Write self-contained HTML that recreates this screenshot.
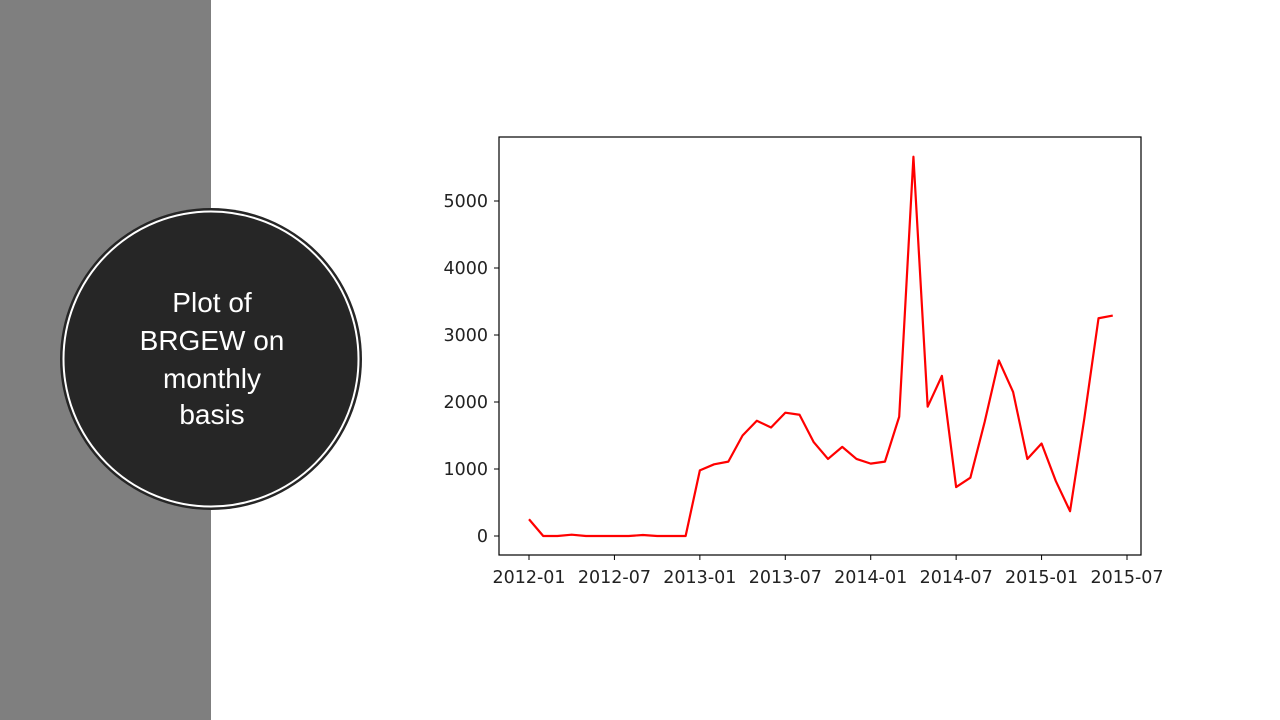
<!DOCTYPE html>
<html><head><meta charset="utf-8"><style>
html,body{margin:0;padding:0;width:1280px;height:720px;overflow:hidden;background:#fff;font-family:"Liberation Sans",sans-serif}
#band{position:absolute;left:0;top:0;width:211px;height:720px;background:#7f7f7f}
</style></head><body>
<div id="band"></div>
<svg width="1280" height="720" style="position:absolute;left:0;top:0">
<g>
<circle cx="211" cy="359" r="151" fill="#262626"/>
<circle cx="211" cy="359" r="147.5" fill="none" stroke="#fff" stroke-width="2"/>
<text x="212" y="312" fill="#fff" font-size="28" text-anchor="middle" font-family="Liberation Sans, sans-serif">
<tspan x="212" y="312">Plot of</tspan><tspan x="212" y="350">BRGEW on</tspan><tspan x="212" y="388">monthly</tspan><tspan x="212" y="424">basis</tspan></text>
</g>
<g id="chart" font-family="DejaVu Sans, sans-serif"></g>
</svg>
<script>
const yTicks=[0,1000,2000,3000,4000,5000];
const xTickLabels=["2012-01","2012-07","2013-01","2013-07","2014-01","2014-07","2015-01","2015-07"];
const xTickMonths=[0,6,12,18,24,30,36,42];
const values=[250,0,0,20,0,0,0,0,15,0,0,0,980,1070,1110,1500,1720,1620,1840,1810,1400,1150,1330,1150,1080,1110,1780,5660,1930,2390,730,870,1700,2620,2150,1150,1380,820,370,1750,3250,3290];
const NS="http://www.w3.org/2000/svg";
const g=document.getElementById('chart');
const L=499,R=1141,T=137,B=555;
const xs=m=>529+m*(1127-529)/42;
const ys=v=>536-v*0.067;
function mk(t,a){const e=document.createElementNS(NS,t);for(const k in a)e.setAttribute(k,a[k]);g.appendChild(e);return e;}
const frame=mk('rect',{x:L,y:T,width:R-L,height:B-T,fill:'none',stroke:'#000','stroke-width':1.2});


yTicks.forEach(v=>{
 const t=mk('line',{x1:L-5,x2:L,y1:ys(v),y2:ys(v),stroke:'#000'});
 
 
 const l=mk('text',{x:L-11,y:ys(v)+6,'text-anchor':'end','font-size':17.5,fill:'#222'});
 l.textContent=v;
 
 
});
xTickMonths.forEach((m,i)=>{
 const t=mk('line',{x1:xs(m),x2:xs(m),y1:B,y2:B+5,stroke:'#000'});
 
 
 const l=mk('text',{x:xs(m),y:B+28,'text-anchor':'middle','font-size':17.5,fill:'#222'});
 l.textContent=xTickLabels[i];
 
 
});
const p=mk('polyline',{points:values.map((v,i)=>xs(i)+','+ys(v)).join(' '),fill:'none',stroke:'#ff0000','stroke-width':2.2,'stroke-linejoin':'round'});


</script>
</body></html>
